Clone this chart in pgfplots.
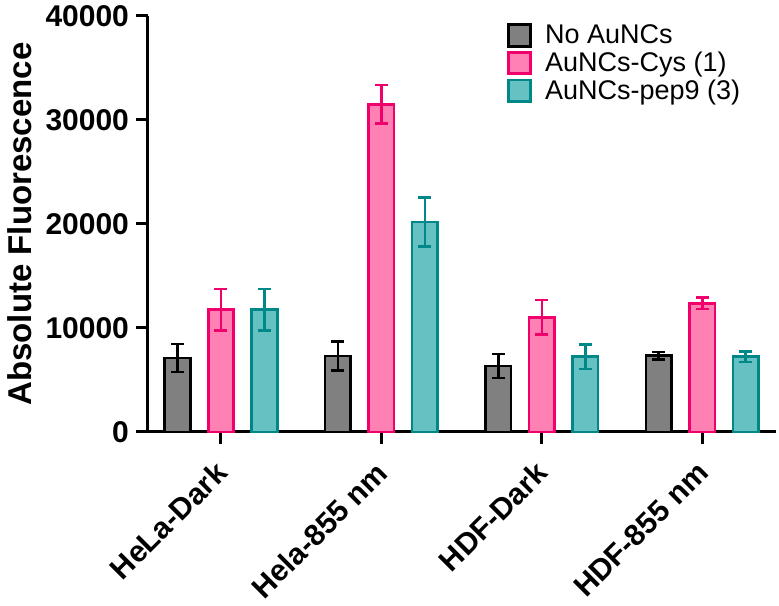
\documentclass[border=0pt]{standalone}
\usepackage{pgfplots}
\pgfplotsset{compat=1.18}
\usepackage{fontspec}
\setmainfont{Liberation Sans}
\definecolor{greyfill}{RGB}{128,128,128}
\definecolor{pinkfill}{RGB}{255,128,179}
\definecolor{pinkedge}{RGB}{240,0,106}
\definecolor{tealfill}{RGB}{102,194,194}
\definecolor{tealedge}{RGB}{0,136,136}
\pgfplotsset{sqlegend/.style={legend image code/.code={\draw[##1,line width=1.4pt] (0pt,-5.4pt) rectangle (11pt,5.4pt);}}}
\begin{document}
\begin{tikzpicture}
\begin{axis}[
  scale only axis,
  width=314pt, height=208pt,
  xmin=-0.455, xmax=3.46,
  ymin=0, ymax=40000,
  axis x line=bottom, axis y line=left,
  axis line style={line width=1.5pt,-},
  ytick={0,10000,20000,30000,40000},
  xtick={0,1,2,3},
  xticklabels={HeLa-Dark,Hela-855 nm,HDF-Dark,HDF-855 nm},
  scaled y ticks=false,
  /pgf/number format/assume math mode=true,
  /pgf/number format/1000 sep={},
  tick style={line width=1.5pt,black},
  tick align=outside,
  major tick length=6pt,
  tick label style={font=\fontsize{15}{18}\selectfont\bfseries},
  x tick label style={rotate=45,anchor=east,inner sep=1pt,xshift=-7pt,yshift=-8.5pt},
  ylabel={Absolute Fluorescence},
  ylabel style={font=\fontsize{16.5}{20}\selectfont\bfseries},
  ybar,
  bar width=0.159,
  legend style={draw=none,fill=none,at={(0.562,1.0)},anchor=north west,
    font=\fontsize{13.5}{16}\selectfont,row sep=-1.3pt,
    /tikz/every odd column/.append style={column sep=4.5pt}},
  legend cell align=left,
  error bars/y dir=both, error bars/y explicit,
  clip=false,
]
\addplot[sqlegend,fill=greyfill,draw=black,line width=1.3pt,bar shift=-0.271,
  error bars/error bar style={line width=1.3pt,black},
  error bars/error mark options={rotate=90,mark size=3.25pt,line width=1.3pt,black}]
  coordinates {(0,7100) +- (0,1350) (1,7300) +- (0,1400) (2,6350) +- (0,1150) (3,7340) +- (0,350)};
\addplot[sqlegend,fill=pinkfill,draw=pinkedge,line width=1.3pt,bar shift=0,
  error bars/error bar style={line width=1.3pt,pinkedge},
  error bars/error mark options={rotate=90,mark size=3.25pt,line width=1.3pt,pinkedge}]
  coordinates {(0,11750) +- (0,2000) (1,31500) +- (0,1850) (2,11030) +- (0,1650) (3,12370) +- (0,550)};
\addplot[sqlegend,fill=tealfill,draw=tealedge,line width=1.3pt,bar shift=0.271,
  error bars/error bar style={line width=1.3pt,tealedge},
  error bars/error mark options={rotate=90,mark size=3.25pt,line width=1.3pt,tealedge}]
  coordinates {(0,11750) +- (0,2000) (1,20200) +- (0,2350) (2,7240) +- (0,1200) (3,7240) +- (0,500)};
\legend{No AuNCs,AuNCs-Cys (1),AuNCs-pep9 (3)}
\coordinate (bl) at (rel axis cs:0,0);
\coordinate (tr) at (rel axis cs:1,1);
\end{axis}
\pgfresetboundingbox
\path[use as bounding box] ([xshift=-74pt,yshift=-87pt]bl) rectangle ([xshift=1.5pt,yshift=8pt]tr);
\end{tikzpicture}
\end{document}
